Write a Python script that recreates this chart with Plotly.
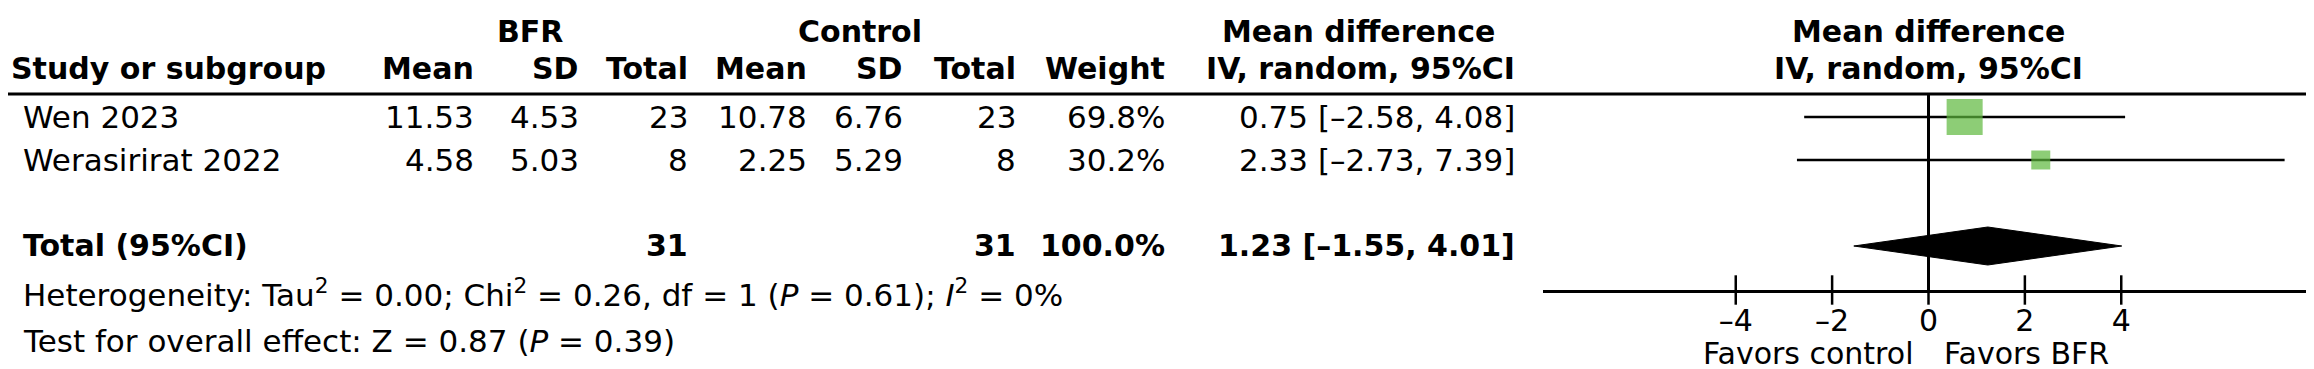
import plotly.graph_objects as go

# ---------------- data ----------------
studies = ["Wen 2023", "Werasirirat 2022"]
bfr_mean = [11.53, 4.58]
bfr_sd = [4.53, 5.03]
bfr_n = [23, 8]
ctl_mean = [10.78, 2.25]
ctl_sd = [6.76, 5.29]
ctl_n = [23, 8]
weights = [69.8, 30.2]
md = [0.75, 2.33]
ci_lo = [-2.58, -2.73]
ci_hi = [4.08, 7.39]
total_md = 1.23
total_lo = -1.55
total_hi = 4.01
total_weight = 100.0
tick_vals = [-4, -2, 0, 2, 4]
x_range = [-8, 8]
heterogeneity = ("Heterogeneity: Tau<sup>2</sup> = 0.00; Chi<sup>2</sup> = 0.26, df = 1 "
                 "(<i>P</i> = 0.61); <i>I</i><sup>2</sup> = 0%")
overall = "Test for overall effect: Z = 0.87 (<i>P</i> = 0.39)"

# ---------------- layout constants ----------------
W, H = 2314, 369
FONT = "DejaVu Sans"
FS = 31      # regular text
FSB = 30     # bold text
FSA = 30     # axis text
GREEN = "#5cb83c"

def px(p):
    return p / W

def py(p):
    return 1 - p / H

def dash(s):
    return s.replace("-", "\u2013")

def fmt_ci(m, lo, hi):
    return dash(f"{m:.2f} [{lo:.2f}, {hi:.2f}]")

plot_left, plot_right = 1535, 2306
rule_y, axis_y = 86, 282
hdr1_y, hdr2_y = 23, 60
row_y = [109, 152]
total_y = 238
het_y, ovr_y = 285, 333
fav_y = 345

fig = go.Figure()

# CI lines
xs, ys = [], []
for lo, hi, y in zip(ci_lo, ci_hi, row_y):
    xs += [lo, hi, None]
    ys += [y, y, None]
fig.add_trace(go.Scatter(x=xs, y=ys, mode="lines",
                         line=dict(color="black", width=2.5),
                         hoverinfo="skip", showlegend=False))
# squares sized by weight
sizes = [6 + 0.43 * w for w in weights]
fig.add_trace(go.Scatter(x=md, y=row_y, mode="markers",
                         marker=dict(symbol="square", size=sizes, color=GREEN,
                                     line=dict(width=0)),
                         showlegend=False))
# diamond
dh = 19
fig.add_trace(go.Scatter(x=[total_lo, total_md, total_hi, total_md, total_lo],
                         y=[total_y, total_y - dh, total_y, total_y + dh, total_y],
                         mode="lines", fill="toself", fillcolor="black",
                         line=dict(color="black", width=1),
                         showlegend=False))
# crossing tick marks
fig.add_trace(go.Scatter(x=tick_vals, y=[axis_y] * len(tick_vals), mode="markers",
                         marker=dict(symbol="line-ns", size=21,
                                     line=dict(color="black", width=2.5)),
                         cliponaxis=False, showlegend=False, hoverinfo="skip"))

ann = []

def text(x, y, s, anchor="left", bold=False, xref="paper", size=None):
    if size is None:
        size = FSB if bold else FS
    if bold:
        s = f"<b>{s}</b>"
    ann.append(dict(x=px(x) if xref == "paper" else x, y=py(y), xref=xref, yref="paper",
                    text=s, showarrow=False, xanchor=anchor, yanchor="middle",
                    borderpad=0,
                    font=dict(family=FONT, size=size, color="black")))

# header row 1
text(522, hdr1_y, "BFR", "center", True)
text(852, hdr1_y, "Control", "center", True)
text(1350, hdr1_y, "Mean difference", "center", True)
text(1920, hdr1_y, "Mean difference", "center", True)
# header row 2
text(2, hdr2_y, "Study or subgroup", "left", True)
col_right = dict(bm=467, bs=572, bn=681, cm=800, cs=896, cn=1009, w=1158, ci=1508)
text(col_right["bm"], hdr2_y, "Mean", "right", True)
text(col_right["bs"], hdr2_y, "SD", "right", True)
text(col_right["bn"], hdr2_y, "Total", "right", True)
text(col_right["cm"], hdr2_y, "Mean", "right", True)
text(col_right["cs"], hdr2_y, "SD", "right", True)
text(col_right["cn"], hdr2_y, "Total", "right", True)
text(col_right["w"], hdr2_y, "Weight", "right", True)
text(1352, hdr2_y, "IV, random, 95%CI", "center", True)
text(1920, hdr2_y, "IV, random, 95%CI", "center", True)

# study rows
for i, y in enumerate(row_y):
    text(14, y, studies[i])
    text(col_right["bm"], y, f"{bfr_mean[i]:.2f}", "right")
    text(col_right["bs"], y, f"{bfr_sd[i]:.2f}", "right")
    text(col_right["bn"], y, f"{bfr_n[i]}", "right")
    text(col_right["cm"], y, f"{ctl_mean[i]:.2f}", "right")
    text(col_right["cs"], y, f"{ctl_sd[i]:.2f}", "right")
    text(col_right["cn"], y, f"{ctl_n[i]}", "right")
    text(col_right["w"], y, f"{weights[i]:.1f}%", "right")
    text(col_right["ci"], y, fmt_ci(md[i], ci_lo[i], ci_hi[i]), "right")

# total row
text(14, total_y, "Total (95%CI)", "left", True)
text(col_right["bn"], total_y, f"{sum(bfr_n)}", "right", True)
text(col_right["cn"], total_y, f"{sum(ctl_n)}", "right", True)
text(col_right["w"], total_y, f"{total_weight:.1f}%", "right", True)
text(col_right["ci"], total_y, fmt_ci(total_md, total_lo, total_hi), "right", True)

text(14, het_y, heterogeneity)
text(14, ovr_y, overall)

# favours labels
text(-0.3, fav_y, "Favors control", "right", xref="x", size=FSA)
text(0.3, fav_y, "Favors BFR", "left", xref="x", size=FSA)

fig.update_layout(
    width=W, height=H,
    margin=dict(l=0, r=0, t=0, b=0),
    paper_bgcolor="white", plot_bgcolor="white",
    annotations=ann,
    shapes=[dict(type="line", xref="paper", yref="paper", x0=0, x1=1,
                 y0=py(rule_y), y1=py(rule_y), line=dict(color="black", width=3))],
    xaxis=dict(domain=[px(plot_left), px(plot_right)], range=x_range,
               showgrid=False, zeroline=True, zerolinecolor="black", zerolinewidth=2.5,
               showline=True, linecolor="black", linewidth=3,
               tickvals=tick_vals, ticktext=[dash(str(v)) for v in tick_vals],
               ticks="", ticklabelstandoff=2,
               tickfont=dict(family=FONT, size=FSA, color="black"), fixedrange=True),
    yaxis=dict(domain=[py(axis_y), py(rule_y)], range=[axis_y, rule_y],
               visible=False, fixedrange=True),
    showlegend=False,
)

fig.write_html("out.html")
